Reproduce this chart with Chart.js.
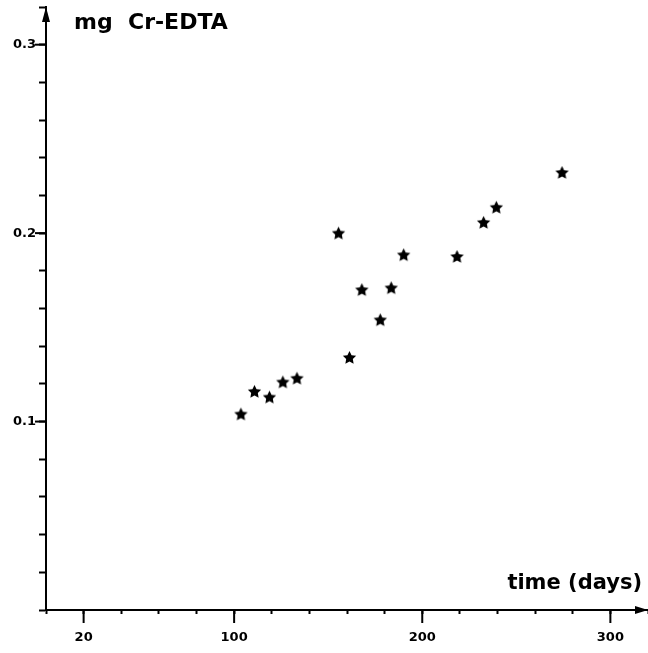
<!DOCTYPE html>
<html>
<head>
<meta charset="utf-8">
<script src="https://cdn.jsdelivr.net/npm/chart.js@4"></script>
<style>
  html, body { margin: 0; padding: 0; background: #fff; }
  #wrap { width: 648px; height: 653px; }
</style>
</head>
<body>
<div id="wrap"><canvas id="chart" width="648" height="653"></canvas></div>
<script>
// values
const days = [103.6, 110.8, 118.8, 125.9, 133.4, 155.5, 161.3, 167.9, 177.7, 183.5, 190.1, 218.5, 232.6, 239.4, 274.3];
const crEdta = [0.104, 0.116, 0.113, 0.121, 0.123, 0.200, 0.134, 0.170, 0.154, 0.171, 0.1885, 0.1876, 0.2057, 0.2137, 0.2322];
const xTickLabels = [20, 100, 200, 300];
const yTickLabels = [0.1, 0.2, 0.3];
const yTitle = 'mg  Cr-EDTA';
const xTitle = 'time (days)';

const FONT = '"DejaVu Sans", sans-serif';

// filled five-point star used as the marker
function makeStar(size) {
    const c = document.createElement('canvas');
    c.width = size; c.height = size;
    const g = c.getContext('2d');
    const cx = size / 2, cy = size / 2 + 0.5, ro = size / 2 - 0.5, ri = ro * 0.5;
    g.beginPath();
    for (let i = 0; i < 10; i++) {
        const r = i % 2 ? ri : ro;
        const a = -Math.PI / 2 + i * Math.PI / 5;
        g.lineTo(cx + r * Math.cos(a), cy + r * Math.sin(a));
    }
    g.closePath();
    g.fillStyle = '#000';
    g.fill();
    return c;
}

// arrows, longer major ticks and the two axis captions
const axisExtras = {
    id: 'axisExtras',
    afterDraw(chart) {
        const { ctx, chartArea: a, scales: { x, y } } = chart;
        ctx.save();
        ctx.strokeStyle = '#000';
        ctx.fillStyle = '#000';
        ctx.lineWidth = 2;
        xTickLabels.forEach(v => {
            const px = x.getPixelForValue(v);
            ctx.beginPath(); ctx.moveTo(px, a.bottom); ctx.lineTo(px, a.bottom + 13); ctx.stroke();
        });
        yTickLabels.forEach(v => {
            const py = y.getPixelForValue(v);
            ctx.beginPath(); ctx.moveTo(a.left, py); ctx.lineTo(a.left - 11, py); ctx.stroke();
        });
        // y arrow
        ctx.beginPath();
        ctx.moveTo(a.left, a.top);
        ctx.lineTo(a.left - 4, a.top + 15);
        ctx.lineTo(a.left + 4, a.top + 15);
        ctx.closePath(); ctx.fill();
        // x arrow
        ctx.beginPath();
        ctx.moveTo(a.right, a.bottom);
        ctx.lineTo(a.right - 13, a.bottom - 4);
        ctx.lineTo(a.right - 13, a.bottom + 4);
        ctx.closePath(); ctx.fill();

        ctx.textBaseline = 'alphabetic';
        ctx.font = 'bold 22px ' + FONT;
        ctx.textAlign = 'left';
        ctx.fillText(yTitle, a.left + 28, a.top + 22);
        ctx.font = 'bold 21px ' + FONT;
        ctx.textAlign = 'right';
        ctx.fillText(xTitle, a.right - 6, a.bottom - 21);
        ctx.restore();
    }
};

new Chart(document.getElementById('chart'), {
    type: 'scatter',
    data: {
        datasets: [{
            data: days.map((d, i) => ({ x: d, y: crEdta[i] })),
            pointStyle: makeStar(15),
            pointRadius: 7,
            pointHoverRadius: 7
        }]
    },
    options: {
        responsive: false,
        animation: false,
        events: [],
        layout: { autoPadding: false, padding: { top: 7, right: 0, left: 0, bottom: 0 } },
        plugins: { legend: { display: false }, tooltip: { enabled: false } },
        scales: {
            x: {
                type: 'linear',
                min: 0,
                max: 320,
                afterFit: s => { s.height = 43; s.paddingLeft = 0; s.paddingRight = 0; },
                border: { display: true, color: '#000', width: 2 },
                grid: { drawOnChartArea: false, drawTicks: true, tickLength: 4, tickColor: '#000', tickWidth: 2 },
                ticks: {
                    stepSize: 20,
                    autoSkip: false,
                    maxRotation: 0,
                    padding: 16,
                    color: '#000',
                    font: { family: FONT, size: 13, weight: 'bold' },
                    callback: v => xTickLabels.includes(Math.round(v)) ? String(Math.round(v)) : ''
                }
            },
            y: {
                type: 'linear',
                min: 0,
                max: 0.32,
                afterFit: s => { s.width = 46; s.paddingTop = 0; s.paddingBottom = 0; },
                border: { display: true, color: '#000', width: 2 },
                grid: { drawOnChartArea: false, drawTicks: true, tickLength: 7, tickColor: '#000', tickWidth: 2 },
                ticks: {
                    stepSize: 0.02,
                    autoSkip: false,
                    padding: 3,
                    color: '#000',
                    font: { family: FONT, size: 13, weight: 'bold' },
                    callback: v => {
                        const r = Math.round(v * 100) / 100;
                        return yTickLabels.includes(r) ? r.toFixed(1) : '';
                    }
                }
            }
        }
    },
    plugins: [axisExtras]
});
</script>
</body>
</html>
